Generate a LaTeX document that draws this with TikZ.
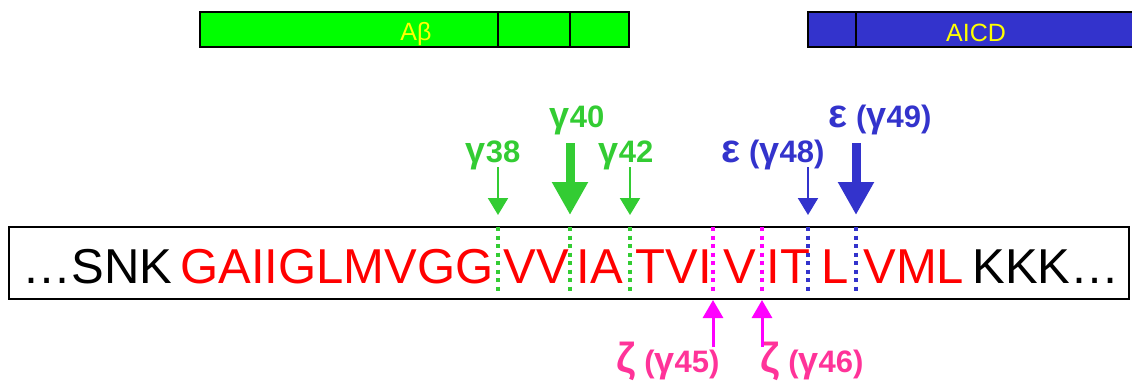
\documentclass[tikz,border=0pt]{standalone}
\usepackage{fontspec}
\setmainfont{Liberation Sans}
\usepackage{tikz}
\usetikzlibrary{arrows.meta}
\definecolor{abgreen}{HTML}{00FF00}
\definecolor{cutgreen}{HTML}{33CC33}
\definecolor{cutblue}{HTML}{3333CC}
\definecolor{zetapink}{HTML}{FF3399}
\definecolor{zetamag}{HTML}{FF00FF}
\definecolor{seqred}{HTML}{FF0000}
\definecolor{baryellow}{HTML}{FFFF00}
\newcommand{\sitegamma}{{\fontsize{18}{18}\selectfont γ}}
\newcommand{\siteeps}{{\fontsize{20}{18}\selectfont ε}}
\newcommand{\sitezeta}{{\fontsize{21}{18}\selectfont ζ}}

\begin{document}
\begin{tikzpicture}[x=0.5pt,y=-0.5pt,
  seq/.style={anchor=base west,inner sep=0pt,font=\fontsize{24.5}{28}\selectfont},
  cutlabel/.style={anchor=base,inner sep=0pt,font=\fontsize{15.5}{18}\selectfont\bfseries},
  barlabel/.style={anchor=base,inner sep=0pt,text=baryellow,font=\fontsize{12.5}{15}\selectfont},
  site/.style={line width=1.75pt,dash pattern=on 2pt off 2.25pt},
  minor/.style={line width=1pt,-{Triangle[width=10pt,length=8.5pt]}},
  major/.style={line width=4.5pt,-{Triangle[width=17pt,length=16.5pt]}},
  zetaarrow/.style={line width=1.5pt,zetamag,-{Triangle[width=10pt,length=9pt]}}]
  \useasboundingbox (0,0) rectangle (1132,388);
  % domain bars
  \draw[line width=0.75pt,fill=abgreen] (200,12) rectangle (629,47);
  \draw[line width=0.75pt] (498,12) -- (498,47) (570,12) -- (570,47);
  \node[barlabel] (abeta) at (416,40) {Aβ};
  \draw[line width=0.75pt,fill=cutblue] (808,12) rectangle (1140,47);
  \draw[line width=0.75pt] (856,12) -- (856,47);
  \node[barlabel] (aicd) at (976,41) {AICD};
  % sequence
  \draw[line width=0.75pt] (9,227) rectangle (1129,299);
  \foreach \x/\c in {498/cutgreen, 570/cutgreen, 630/cutgreen, 713/zetamag, 762/zetamag, 808/cutblue, 856/cutblue}
    \draw[site,\c] (\x,227) -- (\x,293);
  \node[seq] (nterm) at (22,283) {…SNK};
  \node[seq,seqred] (s1) at (180,283) {GAIIGLMVGG};
  \node[seq,seqred] (s2) at (503,283) {VV};
  \node[seq,seqred] (s3) at (576,283) {IA};
  \node[seq,seqred] (s4) at (635,283) {TVI};
  \node[seq,seqred] (s5) at (723,283) {V};
  \node[seq,seqred] (s6) at (766,283) {IT};
  \node[seq,seqred] (s7) at (821,283) {L};
  \node[seq,seqred] (s8) at (863,283) {VML};
  \node[seq] (cterm) at (972,283) {KKK…};
  % cleavage sites
  \node[cutlabel,cutgreen] (g38) at (493,162) {\sitegamma38};
  \node[cutlabel,cutgreen] (g40) at (577,127) {\sitegamma40};
  \node[cutlabel,cutgreen] (g42) at (626,162) {\sitegamma42};
  \node[cutlabel,cutblue] (e48) at (773,162) {\siteeps{} (\sitegamma48)};
  \node[cutlabel,cutblue] (e49) at (880,127) {\siteeps{} (\sitegamma49)};
  \node[cutlabel,zetapink] (z45) at (668,372) {\sitezeta{} (\sitegamma45)};
  \node[cutlabel,zetapink] (z46) at (812,372) {\sitezeta{} (\sitegamma46)};
  \foreach \x/\y/\c/\s/\n in {498/167/cutgreen/minor/38, 570/143/cutgreen/major/40, 630/167/cutgreen/minor/42, 808/167/cutblue/minor/48, 856/143/cutblue/major/49} {
    \coordinate (top\n) at (\x,\y);
    \coordinate (tip\n) at (\x,215);
    \draw[\s,\c] (top\n) -- (tip\n);
  }
  \foreach \x/\n in {713/45, 762/46} {
    \coordinate (tail\n) at (\x,347);
    \coordinate (tip\n) at (\x,300);
    \draw[zetaarrow] (tail\n) -- (tip\n);
  }
\end{tikzpicture}
\end{document}
